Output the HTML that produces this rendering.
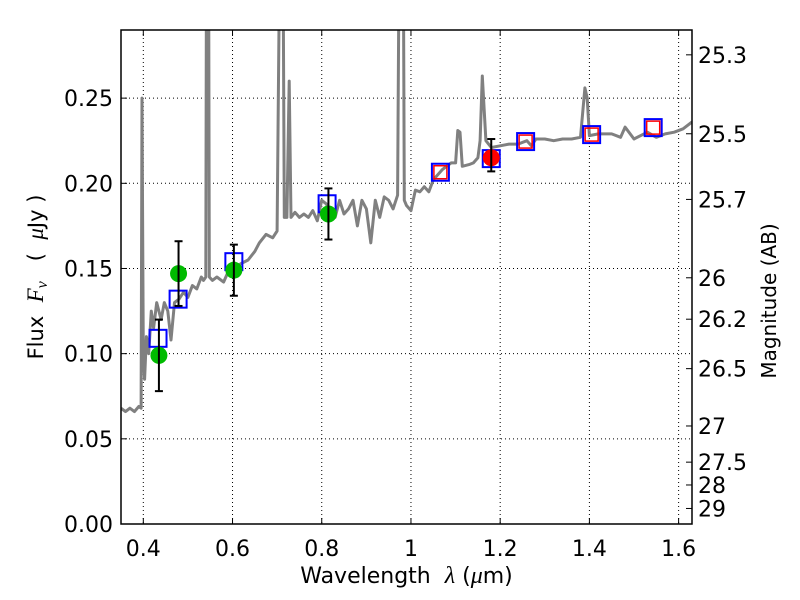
<!DOCTYPE html>
<html><head><meta charset="utf-8"><style>
html,body{margin:0;padding:0;background:#fff;}
svg{display:block;font-family:"DejaVu Sans","Liberation Sans",sans-serif;}
.m{font-family:"Liberation Serif","DejaVu Serif",serif;font-style:italic;}
.pre{white-space:pre;}
</style></head><body>
<svg id="chart" width="800" height="600" viewBox="0 0 800 600" xmlns="http://www.w3.org/2000/svg"></svg>
<script>
const specWl=[0.35,0.36,0.37,0.38,0.39,0.395,0.397,0.400,0.403,0.407,0.412,0.418,0.423,0.43,0.44,0.447,0.455,0.462,0.47,0.48,0.49,0.50,0.51,0.52,0.53,0.535,0.540,0.542,0.546,0.548,0.555,0.565,0.58,0.59,0.60,0.62,0.635,0.65,0.66,0.675,0.69,0.70,0.708,0.712,0.716,0.722,0.727,0.731,0.74,0.75,0.76,0.77,0.78,0.79,0.80,0.81,0.82,0.83,0.84,0.85,0.86,0.87,0.88,0.89,0.90,0.91,0.92,0.93,0.94,0.95,0.96,0.97,0.975,0.982,0.985,0.99,1.00,1.01,1.02,1.03,1.04,1.05,1.06,1.07,1.08,1.09,1.10,1.105,1.11,1.115,1.13,1.14,1.15,1.155,1.16,1.168,1.18,1.20,1.22,1.24,1.26,1.27,1.28,1.30,1.32,1.34,1.36,1.38,1.39,1.395,1.40,1.42,1.45,1.47,1.48,1.50,1.53,1.55,1.57,1.59,1.61,1.63];
const specFlux=[0.068,0.066,0.068,0.066,0.069,0.068,0.25,0.10,0.085,0.11,0.10,0.125,0.115,0.13,0.12,0.13,0.125,0.108,0.13,0.132,0.136,0.133,0.14,0.138,0.145,0.143,0.145,0.40,0.40,0.145,0.143,0.145,0.142,0.148,0.15,0.153,0.155,0.16,0.165,0.17,0.168,0.172,0.40,0.40,0.18,0.18,0.26,0.18,0.183,0.18,0.182,0.18,0.184,0.178,0.19,0.188,0.183,0.18,0.19,0.182,0.185,0.19,0.175,0.19,0.185,0.165,0.19,0.18,0.192,0.19,0.185,0.193,0.40,0.40,0.19,0.187,0.184,0.196,0.195,0.198,0.195,0.202,0.205,0.208,0.21,0.212,0.212,0.231,0.23,0.21,0.211,0.212,0.215,0.225,0.263,0.225,0.221,0.222,0.223,0.223,0.225,0.222,0.226,0.226,0.225,0.226,0.226,0.227,0.256,0.25,0.228,0.229,0.229,0.227,0.233,0.226,0.230,0.227,0.229,0.23,0.232,0.236];
const greenWl=[0.435,0.479,0.603,0.815];
const greenFlux=[0.099,0.147,0.149,0.182];
const greenLo=[0.078,0.128,0.134,0.167];
const greenHi=[0.120,0.166,0.164,0.197];
const redWl=[1.18];
const redFlux=[0.215];
const redLo=[0.207];
const redHi=[0.226];
const boxWl=[0.433,0.478,0.603,0.812,1.066,1.18,1.257,1.405,1.543];
const boxFlux=[0.109,0.132,0.154,0.188,0.2065,0.2145,0.2245,0.2286,0.2327];
const modelWl=[1.066,1.257,1.405,1.543];
const modelFlux=[0.2065,0.2245,0.2286,0.2327];
const xTicks=[0.4,0.6,0.8,1.0,1.2,1.4,1.6];
const xTickLabels=["0.4","0.6","0.8","1","1.2","1.4","1.6"];
const yTicks=[0,0.05,0.10,0.15,0.20,0.25];
const yTickLabels=["0.00","0.05","0.10","0.15","0.20","0.25"];
const magTicks=[25.3,25.5,25.7,26,26.2,26.5,27,27.5,28,29];
const magTickLabels=["25.3","25.5","25.7","26","26.2","26.5","27","27.5","28","29"];

const L=121,R=692,T=30,B=524,xmin=0.35,xmax=1.63,ymin=0,ymax=0.29;
const X=v=>L+(v-xmin)/(xmax-xmin)*(R-L);
const Y=v=>B-(v-ymin)/(ymax-ymin)*(B-T);
const NS="http://www.w3.org/2000/svg";
const svg=document.getElementById('chart');
function mk(tag,attrs,parent){const e=document.createElementNS(NS,tag);for(const k in attrs)e.setAttribute(k,attrs[k]);(parent||svg).appendChild(e);return e;}

const defs=mk('defs',{});
const cp=mk('clipPath',{id:'clip'},defs);
mk('rect',{x:L,y:T,width:R-L,height:B-T},cp);

const grid=mk('g',{});


xTicks.forEach(v=>mk('line',{x1:X(v),x2:X(v),y1:T,y2:B,stroke:'#000','stroke-width':1,'stroke-dasharray':'1,3'},grid));
yTicks.forEach(v=>mk('line',{x1:L,x2:R,y1:Y(v),y2:Y(v),stroke:'#000','stroke-width':1,'stroke-dasharray':'1,3'},grid));

const plot=mk('g',{'clip-path':'url(#clip)'});
let d='';specWl.forEach((w,i)=>{d+=(i?'L':'M')+X(w).toFixed(1)+','+Y(specFlux[i]).toFixed(1);});
const sp=mk('path',{d:d,fill:'none',stroke:'#808080','stroke-width':3,'stroke-linejoin':'round'},plot);



modelWl.forEach((w,i)=>{const r=mk('rect',{x:X(w)-6.5,y:Y(modelFlux[i])-6.5,width:13,height:13,fill:'none',stroke:'#ff0000','stroke-width':1.5},plot);

});
boxWl.forEach((w,i)=>{const r=mk('rect',{x:X(w)-8.5,y:Y(boxFlux[i])-8.5,width:17,height:17,fill:'none',stroke:'#0000ff','stroke-width':2},plot);

});

function pts(wl,fl,lo,hi,col,name){wl.forEach((w,i)=>{
 const g=mk('g',{},plot);
 
 
 mk('circle',{cx:X(w),cy:Y(fl[i]),r:8.5,fill:col},g);
 const x=X(w);
 mk('line',{x1:x,x2:x,y1:Y(lo[i]),y2:Y(hi[i]),stroke:'#000','stroke-width':2},g);
 mk('line',{x1:x-4,x2:x+4,y1:Y(lo[i]),y2:Y(lo[i]),stroke:'#000','stroke-width':2},g);
 mk('line',{x1:x-4,x2:x+4,y1:Y(hi[i]),y2:Y(hi[i]),stroke:'#000','stroke-width':2},g);
});}
pts(greenWl,greenFlux,greenLo,greenHi,'#00bb00','observed-point-green');
pts(redWl,redFlux,redLo,redHi,'#ff0000','observed-point-red');

const fr=mk('rect',{x:L,y:T,width:R-L,height:B-T,fill:'none',stroke:'#000','stroke-width':1.5});



xTicks.forEach((v,i)=>{
 mk('line',{x1:X(v),x2:X(v),y1:B,y2:B-6,stroke:'#000'});
 mk('line',{x1:X(v),x2:X(v),y1:T,y2:T+6,stroke:'#000'});
 const t=mk('text',{x:X(v),y:B+32,'font-size':22,'text-anchor':'middle'});t.textContent=xTickLabels[i];
 
 
});
yTicks.forEach((v,i)=>{
 mk('line',{x1:L,x2:L+6,y1:Y(v),y2:Y(v),stroke:'#000'});
 const t=mk('text',{x:L-8,y:Y(v)+8,'font-size':22,'text-anchor':'end'});t.textContent=yTickLabels[i];
 
 
});
magTicks.forEach((m,i)=>{
 const f=Math.pow(10,(23.9-m)/2.5);const y=Y(f);
 mk('line',{x1:R,x2:R-6,y1:y,y2:y,stroke:'#000'});
 const t=mk('text',{x:R+6,y:y+8,'font-size':22,'text-anchor':'start'});t.textContent=magTickLabels[i];
 
 
});

const xl=mk('text',{x:(L+R)/2+0,y:583,'font-size':22,'text-anchor':'middle','class':'pre'});
xl.innerHTML='Wavelength  <tspan class="m" font-size="24">λ</tspan> (<tspan class="m" font-size="24">μ</tspan>m)';


const yl=mk('text',{x:0,y:0,'font-size':21,'text-anchor':'middle',transform:'translate(43,277) rotate(-90)','class':'pre'});
yl.innerHTML='Flux  <tspan class="m" font-size="23">F</tspan><tspan class="m" font-size="16" dy="4">ν</tspan><tspan dy="-4">   (  </tspan><tspan class="m" font-size="23">μ</tspan>Jy )';


const rl=mk('text',{x:0,y:0,'font-size':20,'text-anchor':'middle',transform:'translate(776,301) rotate(-90)'});
rl.textContent='Magnitude (AB)';


</script>
</body></html>
